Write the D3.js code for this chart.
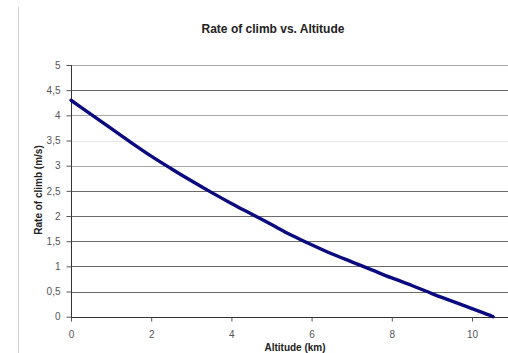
<!DOCTYPE html>
<html><head><meta charset="utf-8">
<script src="https://cdn.jsdelivr.net/npm/d3@7/dist/d3.min.js"></script>
<style>body{margin:0;background:#fff}svg{display:block}</style>
</head><body>
<script>
const altitude = [0,0.5,1,1.5,2,2.5,3,3.5,4,4.5,5,5.5,6,6.5,7,7.5,8,8.5,9,9.5,10,10.5,10.53];
const rateOfClimb = [4.30,4.02,3.74,3.46,3.19,2.94,2.70,2.47,2.25,2.04,1.83,1.62,1.43,1.25,1.09,0.93,0.77,0.62,0.46,0.31,0.16,0.01,0];
const yTicks = [0,0.5,1,1.5,2,2.5,3,3.5,4,4.5,5];
const xTicks = [0,2,4,6,8,10];
const title = "Rate of climb vs. Altitude";
const xTitle = "Altitude (km)";
const yTitle = "Rate of climb (m/s)";

const W=508,H=353;
const svg=d3.select("body").append("svg").attr("width",W).attr("height",H);
const x=d3.scaleLinear().domain([0,12]).range([71,71+12*40.1]);
const y=d3.scaleLinear().domain([0,5]).range([316.7,65]);

svg.append("line").attr("x1",18.5).attr("x2",18.5).attr("y1",7).attr("y2",H).attr("stroke","#cfcfcf");

const gridColor = v => (v===3.5?"#e6e6e6":(v===5||v===4||v===3)?"#a8a8a8":"#6a6a6a");
svg.append("g").selectAll("line").data(yTicks.filter(d=>d>0)).join("line")
  .attr("x1",71).attr("x2",W).attr("y1",d=>Math.round(y(d))+0.5).attr("y2",d=>Math.round(y(d))+0.5)
  .attr("stroke",d=>gridColor(d));

const fmt = d => String(d).replace(".",",");
const ya=svg.append("g").attr("transform","translate(71.5,0)")
  .call(d3.axisLeft(y).tickValues(yTicks).tickSize(5).tickPadding(6).tickFormat(fmt));
const xa=svg.append("g").attr("transform",`translate(0,${Math.round(y(0))+0.5})`)
  .call(d3.axisBottom(x).tickValues(xTicks).tickSize(4).tickPadding(9).tickFormat(d3.format("d")));
[ya,xa].forEach(g=>{
  g.select(".domain").attr("stroke","#333");
  g.selectAll(".tick line").attr("stroke","#555");
  g.selectAll("text").attr("fill","#555").style("font-family","Liberation Sans, Arial, sans-serif").style("font-size","10px");
});
ya.select(".domain").attr("d","M0,"+Math.round(y(0))+"V"+Math.round(y(5)));
xa.select(".domain").attr("d","M"+x(0)+",0H"+W);

svg.append("path").datum(altitude.map((a,i)=>[a,rateOfClimb[i]]))
  .attr("fill","none").attr("stroke","#0a0a80").attr("stroke-width",3.4)
  .attr("stroke-linejoin","round").attr("stroke-linecap","round")
  .attr("d",d3.line().curve(d3.curveMonotoneX).x(d=>x(d[0])).y(d=>y(d[1])));

svg.append("text").attr("x",273).attr("y",33).attr("text-anchor","middle")
  .style("font-family","Liberation Sans, Arial, sans-serif").style("font-size","12px").style("font-weight","bold")
  .attr("fill","#222").text(title);
svg.append("text").attr("x",295).attr("y",351).attr("text-anchor","middle")
  .style("font-family","Liberation Sans, Arial, sans-serif").style("font-size","10px").style("font-weight","bold")
  .attr("fill","#222").text(xTitle);
svg.append("text").attr("transform","translate(42,190) rotate(-90)").attr("text-anchor","middle")
  .style("font-family","Liberation Sans, Arial, sans-serif").style("font-size","10px").style("font-weight","bold")
  .attr("fill","#222").text(yTitle);
</script>
</body></html>
